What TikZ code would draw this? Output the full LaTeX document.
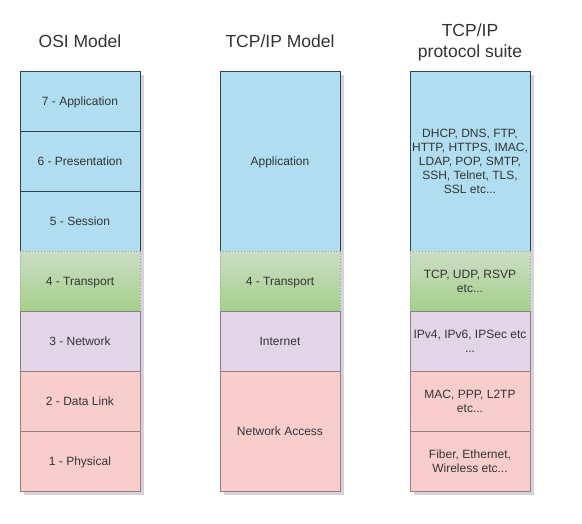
\documentclass[tikz,border=0pt]{standalone}
\usepackage{fontspec}
\setmainfont{Liberation Sans}
\pgfdeclarelayer{background}
\pgfsetlayers{background,main}
\definecolor{txt}{HTML}{333333}
\definecolor{bluef}{HTML}{B1DDF0}
\definecolor{blued}{HTML}{2B4457}
\definecolor{purf}{HTML}{E1D5E7}
\definecolor{purd}{HTML}{8C8088}
\definecolor{redf}{HTML}{F8CECC}
\definecolor{redd}{HTML}{9A7E7E}
\definecolor{greent}{HTML}{CCDDC6}
\definecolor{greenb}{HTML}{A4D08A}
\definecolor{greend}{HTML}{8FAF80}
\definecolor{shad}{HTML}{D8D2DE}
\tikzset{
  layer/.style={rectangle, minimum width=120pt, inner sep=1pt, line width=0.9pt,
    text=txt, font=\fontsize{12}{14}\selectfont, align=center},
  one/.style={text depth=0pt},
  bluebox/.style={layer, draw=blued, fill=bluef},
  purbox/.style={layer, draw=purd, fill=purf},
  redbox/.style={layer, draw=redd, fill=redf},
  greenbox/.style={layer, draw=greend, dotted, top color=greent, bottom color=greenb},
  title/.style={text=txt, font=\fontsize{17.5}{21}\selectfont, align=center, inner sep=0pt},
}
\begin{document}
\begin{tikzpicture}[x=1pt,y=-1pt]
\useasboundingbox (0,0) rectangle (582,523);
% titles
\node[title, text depth=0pt] (t1) at (80,41.5) {OSI Model};
\node[title, text depth=0pt] (t2) at (280,41.5) {TCP/IP Model};
\node[title] (t3) at (470,42) {TCP/IP\\protocol suite};
% OSI column
\node[bluebox, one, minimum height=60pt] (o7) at (80,101) {7 - Application};
\node[bluebox, one, minimum height=60pt] (o6) at (80,161) {6 - Presentation};
\node[bluebox, one, minimum height=60pt] (o5) at (80,221) {5 - Session};
\node[greenbox, one, minimum height=60pt] (o4) at (80,281) {4 - Transport};
\node[purbox, one, minimum height=60pt] (o3) at (80,341) {3 - Network};
\node[redbox, one, minimum height=60pt] (o2) at (80,401) {2 - Data Link};
\node[redbox, one, minimum height=60pt] (o1) at (80,461) {1 - Physical};
% TCP/IP model column
\node[bluebox, one, minimum height=180pt] (m4) at (280,161) {Application};
\node[greenbox, one, minimum height=60pt] (m3) at (280,281) {4 - Transport};
\node[purbox, one, minimum height=60pt] (m2) at (280,341) {Internet};
\node[redbox, one, minimum height=120pt] (m1) at (280,431) {Network Access};
% protocol suite column
\node[bluebox, minimum height=180pt] (s5) at (470,161) {DHCP, DNS, FTP,\\HTTP, HTTPS, IMAC,\\LDAP, POP, SMTP,\\SSH, Telnet, TLS,\\SSL etc...};
\node[greenbox, minimum height=60pt] (s4) at (470,281) {TCP, UDP, RSVP\\etc...};
\node[purbox, minimum height=60pt] (s3) at (470,341) {IPv4, IPv6, IPSec etc\\...};
\node[redbox, minimum height=60pt] (s2) at (470,401) {MAC, PPP, L2TP\\etc...};
\node[redbox, minimum height=60pt] (s1) at (470,461) {Fiber, Ethernet,\\Wireless etc...};
% shadows
\begin{pgfonlayer}{background}
\fill[shad] ([shift={(4,4)}]o7.north west) rectangle ([shift={(4,4)}]o1.south east);
\fill[shad] ([shift={(4,4)}]m4.north west) rectangle ([shift={(4,4)}]m1.south east);
\fill[shad] ([shift={(4,4)}]s5.north west) rectangle ([shift={(4,4)}]s1.south east);
\end{pgfonlayer}
\end{tikzpicture}
\end{document}
